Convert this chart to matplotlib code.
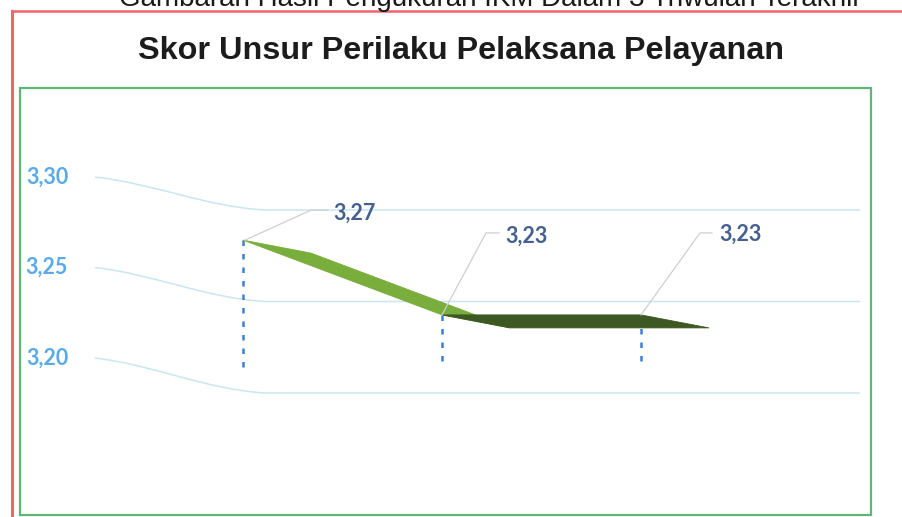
import matplotlib.pyplot as plt
from matplotlib.patches import Polygon, Rectangle
from matplotlib.lines import Line2D
from matplotlib.path import Path
from matplotlib.patches import PathPatch

# data
periods = ['Triwulan I', 'Triwulan II', 'Triwulan III']
scores = [3.27, 3.23, 3.23]
score_labels = ['3,27', '3,23', '3,23']
ticks = [3.20, 3.25, 3.30]
tick_labels = ['3,20', '3,25', '3,30']
title = 'Skor Unsur Perilaku Pelaksana Pelayanan'
top_text = 'Gambaran Hasil Pengukuran IKM Dalam 3 Triwulan Terakhir'

W, H = 903, 517
fig = plt.figure(figsize=(W / 100, H / 100), dpi=100)
ax = fig.add_axes([0, 0, 1, 1])
ax.axis('off')

# scale: category step 199 px, 0.1 value = 187 px (front plane)
ax.set_xlim(-243 / 199, (W - 243) / 199)
ax.set_ylim(3.20 - (H - 371) / 1870, 3.20 + 371 / 1870)


def shift(x, y, dx, dy):
    # move a data point by pixels (dy positive = down)
    X, Y = ax.transData.transform((x, y))
    return ax.transData.inverted().transform((X + dx, Y - dy))


# borders
fig.add_artist(Line2D([12 / W, 1], [1 - 10.5 / H, 1 - 10.5 / H], color='#f2626f', lw=1.8,
                      transform=fig.transFigure))
fig.add_artist(Line2D([12 / W, 12 / W], [0, 1 - 10.5 / H], color='#f2626f', lw=2.2,
                      transform=fig.transFigure))
fig.add_artist(Rectangle((20 / W, 1 - 515 / H), 851 / W, 427 / H, fill=False,
                         ec='#62b477', lw=1.6, transform=fig.transFigure))

# texts on top
fig.text(490 / W, 1 - 6.5 / H, top_text, ha='center', va='baseline', fontsize=20,
         family='Liberation Sans', color='#1a1a1a')
fig.text(461 / W, 1 - 58.5 / H, title, ha='center', va='baseline', fontsize=23.3,
         family='Liberation Sans', fontweight='bold', color='#1c1c1c')

# 3d-looking gridlines: side wall slant, then back wall
grid_color = '#c9e6f2'
for t, lab in zip(ticks, tick_labels):
    side_up = 7 + (3.30 - t) * 60
    back_down = 22 + (t - 3.20) * 40
    p0 = shift(-0.744, t, 0, -side_up)
    p1 = shift(0.11, t, 0, back_down)
    p2 = shift(3.10, t, 0, back_down)
    dx, dy = p1[0] - p0[0], p1[1] - p0[1]
    verts = [p0, (p0[0] + 0.35 * dx, p0[1] + 0.2 * dy),
             (p0[0] + 0.65 * dx, p0[1] + 0.9 * dy), p1, p2]
    codes = [Path.MOVETO, Path.CURVE4, Path.CURVE4, Path.CURVE4, Path.LINETO]
    ax.add_patch(PathPatch(Path(verts, codes), fc='none', ec=grid_color, lw=1.1))
    lx, ly = shift(-0.985, t, 0, -side_up)
    ax.text(lx, ly, lab, ha='center', va='center', fontsize=15.5, family='Lato',
            fontweight='bold', color='#5aaae8')

# drop lines
for i, v in enumerate(scores):
    ax.plot([i, i], [v, 3.20 + 0.004 * min(i, 1)], color='#3c7fd6', lw=1.8,
            ls=(0, (2.2, 3.2)), zorder=2)

# ribbon (3d line)
depth = (68, 13)
face_colors = ['#79ad3c', '#3d5822']
for i in range(len(scores) - 1):
    a = (i, scores[i])
    b = (i + 1, scores[i + 1])
    pts = [a, b, shift(*b, *depth), shift(*a, *depth)]
    ax.add_patch(Polygon(pts, closed=True, fc=face_colors[i], ec=face_colors[i],
                         lw=0.6, zorder=3))

# data labels with leader lines
leader_offsets = [[(2, 0), (68, -30), (84, -30)],
                  [(0, 0), (44, -82), (57, -82)],
                  [(0, 0), (59, -82), (71, -82)]]
label_offsets = [(112, -27), (85, -79), (100, -81)]
for i, v in enumerate(scores):
    pts = [shift(i, v, dx, dy) for dx, dy in leader_offsets[i]]
    ax.plot([p[0] for p in pts], [p[1] for p in pts], color='#cfcfcf', lw=0.9, zorder=4)
    tx, ty = shift(i, v, *label_offsets[i])
    ax.text(tx, ty, score_labels[i], ha='center', va='center', fontsize=15.5,
            family='Lato', fontweight='bold', color='#45608f', zorder=5)

fig.savefig('out.png', dpi=100)
